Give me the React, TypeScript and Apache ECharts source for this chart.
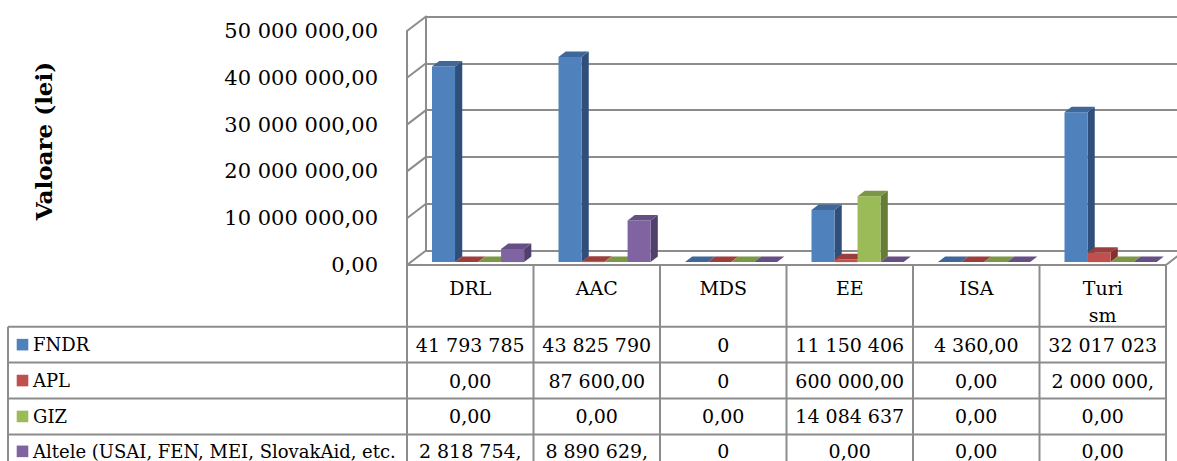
import React, { useEffect, useRef } from 'react';
import * as echarts from 'echarts';

// ---------- data ----------
const CATEGORIES = ['DRL', 'AAC', 'MDS', 'EE', 'ISA', 'Turism'];
const SERIES_NAMES = ['FNDR', 'APL', 'GIZ', 'Altele (USAI, FEN, MEI, SlovakAid, etc.'];
const FNDR = [41793785, 43825790, 0, 11150406, 4360, 32017023];
const APL = [0, 87600, 0, 600000, 0, 2000000];
const GIZ = [0, 0, 0, 14084637, 0, 0];
const ALTELE = [2818754, 8890629, 0, 0, 0, 0];
// texts as shown (truncated) in the data table
const FNDR_TEXT = ['41 793 785', '43 825 790', '0', '11 150 406', '4 360,00', '32 017 023'];
const APL_TEXT = ['0,00', '87 600,00', '0', '600 000,00', '0,00', '2 000 000,'];
const GIZ_TEXT = ['0,00', '0,00', '0,00', '14 084 637', '0,00', '0,00'];
const ALTELE_TEXT = ['2 818 754,', '8 890 629,', '0', '0,00', '0,00', '0,00'];
const Y_MIN = 0;
const Y_MAX = 50000000;
const Y_STEP = 10000000;
const Y_TICKS = [0, 10000000, 20000000, 30000000, 40000000, 50000000];

// ---------- style ----------
const FACES = [
  { front: '#4F81BD', top: '#3F679A', side: '#2F4F7A' },
  { front: '#C0504D', top: '#9C3F3C', side: '#86302E' },
  { front: '#9BBB59', top: '#7C9846', side: '#657D36' },
  { front: '#8064A2', top: '#664F84', side: '#52406C' },
];
const DX = 19;
const DY = -14.5;
const BAR_T = 0.2;
const BAR_DEPTH = 0.38;
const BAR_FRAC = 0.182;
const BAR_SHIFT = 4;
const LINE = '#8c8c8c';
const SERIF = '"DejaVu Serif", serif';
const HEADER_H = 61.7;
const ROW_H = 35.9;
const TABLE_LEFT = 8;

const fmt = (v: number) =>
  Math.round(v).toString().replace(/\B(?=(\d{3})+(?!\d))/g, ' ') + ',00';

const VALUES = [FNDR, APL, GIZ, ALTELE];
const TEXTS = [FNDR_TEXT, APL_TEXT, GIZ_TEXT, ALTELE_TEXT];

function barSeries(s: number) {
  const face = FACES[s];
  return {
    type: 'custom',
    name: SERIES_NAMES[s],
    coordinateSystem: 'cartesian2d',
    xAxisIndex: 0,
    yAxisIndex: 0,
    silent: true,
    encode: { x: 0, y: 1 },
    data: VALUES[s].map((v, i) => [i, v]),
    renderItem: (params: any, api: any) => {
      const i = api.value(0);
      const v = api.value(1);
      const base = api.coord([i, 0]);
      const tp = api.coord([i, v]);
      const band = api.size([1, 0])[0];
      const w = band * BAR_FRAC;
      const ox = DX * BAR_T + BAR_SHIFT;
      const oy = DY * BAR_T;
      const x0 = base[0] - 2 * w + s * w + ox;
      const yb = base[1] + oy;
      const yt = tp[1] + oy;
      const bdx = DX * BAR_DEPTH;
      const bdy = DY * BAR_DEPTH;
      return {
        type: 'group',
        children: [
          {
            type: 'polygon',
            shape: { points: [[x0 + w, yt], [x0 + w + bdx, yt + bdy], [x0 + w + bdx, yb + bdy], [x0 + w, yb]] },
            style: { fill: face.side },
          },
          {
            type: 'rect',
            shape: { x: x0, y: yt, width: w, height: yb - yt },
            style: { fill: face.front },
          },
          {
            type: 'polygon',
            shape: { points: [[x0, yt], [x0 + bdx, yt + bdy], [x0 + w + bdx, yt + bdy], [x0 + w, yt]] },
            style: { fill: face.top },
          },
        ],
      };
    },
  };
}

export default function App() {
  const ref = useRef<HTMLDivElement>(null);
  useEffect(() => {
    if (!ref.current) return;
    const chart = echarts.init(ref.current, null, { renderer: 'svg' });
    const lineStyle = { stroke: LINE, lineWidth: 2 };
    const option: any = {
      animation: false,
      backgroundColor: '#ffffff',
      grid: [
        { left: 407, top: 31, width: 759, height: 234 },
        { left: 407 + DX, top: 31 + DY, width: 759, height: 234 },
      ],
      xAxis: [
        {
          type: 'category',
          gridIndex: 0,
          data: CATEGORIES,
          axisLine: { show: true, lineStyle: { color: LINE, width: 2 } },
          axisTick: { show: false },
          axisLabel: {
            fontFamily: SERIF,
            fontSize: 19,
            color: '#000',
            margin: 9,
            lineHeight: 27,
            verticalAlign: 'top',
            formatter: (v: string) => (v === 'Turism' ? 'Turi\nsm' : v),
          },
        },
        {
          type: 'category',
          gridIndex: 1,
          data: CATEGORIES,
          axisLine: { show: false },
          axisTick: { show: false },
          axisLabel: { show: false },
        },
      ],
      yAxis: [
        {
          type: 'value',
          gridIndex: 0,
          min: Y_MIN,
          max: Y_MAX,
          interval: Y_STEP,
          name: 'Valoare (lei)',
          nameLocation: 'middle',
          nameRotate: 90,
          nameGap: 352,
          nameTextStyle: {
            fontFamily: SERIF,
            fontSize: 23,
            fontWeight: 'bold',
            color: '#000',
            padding: [0, 0, 0, 14],
          },
          axisLine: { show: true, lineStyle: { color: LINE, width: 2 } },
          axisTick: { show: false },
          splitLine: { show: false },
          axisLabel: {
            fontFamily: SERIF,
            fontSize: 21,
            color: '#000',
            margin: 29,
            padding: [4, 0, 0, 0],
            formatter: (v: number) => fmt(v),
          },
        },
        {
          type: 'value',
          gridIndex: 1,
          min: Y_MIN,
          max: Y_MAX,
          interval: Y_STEP,
          axisLine: { show: true, lineStyle: { color: LINE, width: 2 } },
          axisTick: { show: false },
          axisLabel: { show: false },
          splitLine: { show: true, lineStyle: { color: LINE, width: 2 } },
        },
      ],
      series: [
        {
          type: 'custom',
          name: 'frame',
          coordinateSystem: 'cartesian2d',
          xAxisIndex: 0,
          yAxisIndex: 0,
          silent: true,
          z: 1,
          encode: { x: 0, y: 1 },
          data: Y_TICKS.map((v) => [0, v]),
          renderItem: (params: any, api: any) => {
            const cs = params.coordSys;
            const y = api.coord([0, api.value(1)])[1];
            const children: any[] = [
              { type: 'line', shape: { x1: cs.x, y1: y, x2: cs.x + DX, y2: y + DY }, style: lineStyle },
            ];
            if (params.dataIndex === 0) {
              const bx = cs.x + cs.width;
              const by = cs.y + cs.height;
              children.push({ type: 'line', shape: { x1: bx, y1: by, x2: bx + DX, y2: by + DY }, style: lineStyle });
            }
            return { type: 'group', children };
          },
        },
        ...[0, 1, 2, 3].map((s) => barSeries(s)),
        {
          type: 'custom',
          name: 'table',
          coordinateSystem: 'cartesian2d',
          xAxisIndex: 0,
          yAxisIndex: 0,
          silent: true,
          encode: { x: 0, y: 1 },
          data: CATEGORIES.map((c, i) => [i, 0]),
          renderItem: (params: any, api: any) => {
            const cs = params.coordSys;
            const i = api.value(0);
            const c = api.coord([i, 0]);
            const band = api.size([1, 0])[0];
            const top = cs.y + cs.height;
            const rowTop = top + HEADER_H;
            const bottom = rowTop + ROW_H * 4 + 10;
            const xr = c[0] + band / 2;
            const children: any[] = [
              { type: 'line', shape: { x1: xr, y1: top, x2: xr, y2: bottom }, style: lineStyle },
            ];
            TEXTS.forEach((arr, r) => {
              children.push({
                type: 'text',
                style: {
                  text: arr[i],
                  x: c[0],
                  y: rowTop + ROW_H * (r + 0.5) - (r === 3 ? 1 : 0),
                  align: 'center',
                  verticalAlign: 'middle',
                  fontFamily: SERIF,
                  fontSize: 19,
                  lineHeight: 16,
                  fill: '#000',
                },
              });
            });
            if (i === 0) {
              children.push({ type: 'line', shape: { x1: cs.x, y1: top, x2: cs.x, y2: bottom }, style: lineStyle });
              children.push({ type: 'line', shape: { x1: TABLE_LEFT, y1: rowTop, x2: TABLE_LEFT, y2: bottom }, style: lineStyle });
              for (let r = 0; r <= 4; r++) {
                const y = rowTop + ROW_H * r;
                children.push({ type: 'line', shape: { x1: TABLE_LEFT, y1: y, x2: cs.x + cs.width, y2: y }, style: lineStyle });
              }
              SERIES_NAMES.forEach((name, r) => {
                const cy = rowTop + ROW_H * (r + 0.5) - (r === 3 ? 1 : 0);
                children.push({
                  type: 'rect',
                  shape: { x: 16.7, y: cy - 5.8, width: 11.6, height: 11.6 },
                  style: { fill: FACES[r].front },
                });
                children.push({
                  type: 'text',
                  style: {
                    text: name,
                    x: 33,
                    y: cy,
                    align: 'left',
                    verticalAlign: 'middle',
                    fontFamily: SERIF,
                    fontSize: 18,
                    lineHeight: 16,
                    fill: '#000',
                  },
                });
              });
            }
            return { type: 'group', children };
          },
        },
      ],
    };
    chart.setOption(option);
    return () => chart.dispose();
  }, []);
  return (
    <div
      ref={ref}
      style={{ position: 'fixed', left: 0, top: 0, width: 1177, height: 461, background: '#fff' }}
    />
  );
}
